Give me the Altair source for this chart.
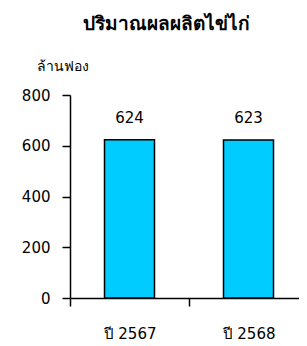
import altair as alt
import pandas as pd

years = ["ปี 2567", "ปี 2568"]
values = [624, 623]
y_ticks = [0, 200, 400, 600, 800]

df = pd.DataFrame({"year": years, "value": values})

FONT = "DejaVu Sans"

base = alt.Chart(df).encode(
    x=alt.X(
        "year:N",
        sort=years,
        scale=alt.Scale(paddingInner=0, paddingOuter=0, range=[0, 238]),
        axis=alt.Axis(
            title=None,
            labelAngle=0,
            labelFont=FONT,
            labelFontSize=15,
            labelColor="black",
            labelPadding=20,
            domainColor="black",
            domainWidth=1.5,
            tickColor="black",
            tickWidth=1.5,
            tickSize=8,
            tickBand="extent",
        ),
    ),
    y=alt.Y(
        "value:Q",
        scale=alt.Scale(domain=[0, 800], nice=False),
        axis=alt.Axis(
            values=y_ticks,
            grid=False,
            title="ล้านฟอง",
            titleAngle=0,
            titleAlign="left",
            titleBaseline="middle",
            titleX=-34,
            titleY=-29,
            titleFont=FONT,
            titleFontSize=14,
            titleFontWeight="normal",
            titleColor="black",
            labelFont=FONT,
            labelFontSize=15,
            labelColor="black",
            labelPadding=12,
            domainColor="black",
            domainWidth=1.5,
            tickColor="black",
            tickWidth=1.5,
            tickSize=8,
        ),
    ),
)

bars = base.mark_bar(width=50, fill="#00CCFF", stroke="black", strokeWidth=1.5)

labels = base.mark_text(
    dy=-22, font=FONT, fontSize=15, color="black", baseline="middle"
).encode(text=alt.Text("value:Q"))

chart = (
    (bars + labels)
    .properties(
        width=229,
        height=203,
        autosize=alt.AutoSizeParams(type="none"),
        padding={"left": 62, "top": 87, "right": 0, "bottom": 46},
        title=alt.TitleParams(
            "ปริมาณผลผลิตไข่ไก่",
            font=FONT,
            fontSize=19,
            fontWeight="bold",
            color="black",
            anchor="middle",
            dx=-18,
            offset=25,
        ),
    )
    .configure_view(stroke=None)
)

chart.save("out.html", embed_options={"renderer": "svg", "actions": False})
